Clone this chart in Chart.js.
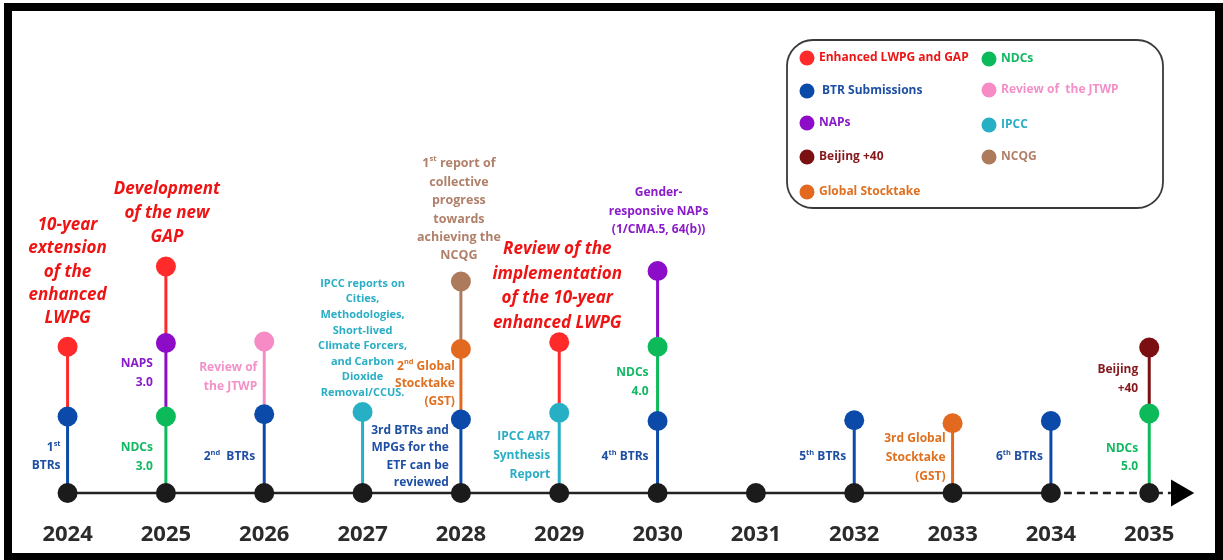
<!DOCTYPE html>
<html>
<head>
<meta charset="utf-8">
<title>Timeline 2024-2035</title>
<script src="https://cdn.jsdelivr.net/npm/chart.js@4.4.1/dist/chart.umd.min.js"></script>
<style>
  html, body { margin: 0; padding: 0; background: #fff; overflow: hidden; }
  #wrap { width: 1223px; height: 560px; position: relative; }
</style>
</head>
<body>
<div id="wrap"><canvas id="timeline"></canvas></div>
<script>
// Anos da linha do tempo
const years = [2024, 2025, 2026, 2027, 2028, 2029, 2030, 2031, 2032, 2033, 2034, 2035];

// Categorias (legenda)
const categories = ['Enhanced LWPG and GAP', 'BTR Submissions', 'NAPs', 'Beijing +40', 'Global Stocktake',
                    'NDCs', 'Review of  the JTWP', 'IPCC', 'NCQG'];
const dotColors  = ['#ff2b2b', '#0b4aa8', '#8c0cc8', '#7b1012', '#e2691f',
                    '#0cba5a', '#f68bc6', '#27afc6', '#ad7b5b'];
const textColors = ['#ee1414', '#1f4fa3', '#8a1bc9', '#85181c', '#e0701f',
                    '#12b862', '#f390c8', '#2aaec4', '#b0806a'];

// Eventos por categoria: [ano, nível]
const lwpgGap = [[2024, 1.95], [2025, 3.02], [2029, 2.01]];
const btr     = [[2024, 1.02], [2026, 1.05], [2028, 0.98], [2030, 0.96], [2032, 0.97], [2034, 0.96]];
const naps    = [[2025, 2.00], [2030, 2.96]];
const beijing = [[2035, 1.94]];
const gst     = [[2028, 1.92], [2033, 0.93]];
const ndcs    = [[2025, 1.02], [2030, 1.95], [2035, 1.06]];
const jtwp    = [[2026, 2.02]];
const ipcc    = [[2027, 1.08], [2029, 1.07]];
const ncqg    = [[2028, 2.82]];
const eventSeries = [lwpgGap, btr, naps, beijing, gst, ndcs, jtwp, ipcc, ncqg];

// Fim da seta do eixo
const axisEnd = 2035.3;

// Textos das anotações ({..} = sobrescrito)
const notes = [
  { year: 2024, cat: 0, at: 3.57, lines: ['10-year', 'extension', 'of the', 'enhanced', 'LWPG'], head: true, align: 'center', dx: 0, lh: 23.3 },
  { year: 2024, cat: 1, at: 0.60, lines: ['1{st}', 'BTRs'], align: 'right', dx: -7, lh: 18 },
  { year: 2025, cat: 0, at: 4.05, lines: ['Development', 'of the new', 'GAP'], head: true, align: 'center', dx: 1, lh: 24 },
  { year: 2025, cat: 2, at: 1.73, lines: ['NAPS', '3.0'], align: 'right', dx: -13, lh: 19 },
  { year: 2025, cat: 5, at: 0.60, lines: ['NDCs', '3.0'], align: 'right', dx: -13, lh: 19 },
  { year: 2026, cat: 6, at: 1.67, lines: ['Review of', 'the JTWP'], align: 'right', dx: -7, lh: 19 },
  { year: 2026, cat: 1, at: 0.48, lines: ['2{nd}  BTRs'], align: 'right', dx: -9, lh: 18 },
  { year: 2027, cat: 7, at: 2.79, lines: ['IPCC reports on', 'Cities,', 'Methodologies,', 'Short-lived', 'Climate Forcers,', 'and Carbon', 'Dioxide', 'Removal/CCUS.'], align: 'center', dx: 0, lh: 15.6, size: 11 },
  { year: 2028, cat: 8, at: 4.39, lines: ['1{st} report of', 'collective', 'progress', 'towards', 'achieving the', 'NCQG'], align: 'center', dx: -2, lh: 18.4, size: 12.5 },
  { year: 2028, cat: 4, at: 1.69, lines: ['2{nd} Global', 'Stocktake', '(GST)'], align: 'right', dx: -6, lh: 17.5 },
  { year: 2028, cat: 1, at: 0.83, lines: ['3rd BTRs and', 'MPGs for the', 'ETF can be', 'reviewed'], align: 'right', dx: -12, lh: 17.3 },
  { year: 2029, cat: 0, at: 3.25, lines: ['Review of the', 'implementation', 'of the 10-year', 'enhanced LWPG'], head: true, align: 'center', dx: -2, lh: 24.5 },
  { year: 2029, cat: 7, at: 0.75, lines: ['IPCC AR7', 'Synthesis', 'Report'], align: 'right', dx: -9, lh: 19 },
  { year: 2030, cat: 2, at: 4.00, lines: ['Gender-', 'responsive NAPs', '(1/CMA.5, 64(b))'], align: 'center', dx: 1, lh: 18.5 },
  { year: 2030, cat: 5, at: 1.60, lines: ['NDCs', '4.0'], align: 'right', dx: -9, lh: 19 },
  { year: 2030, cat: 1, at: 0.48, lines: ['4{th} BTRs'], align: 'right', dx: -9, lh: 18 },
  { year: 2032, cat: 1, at: 0.48, lines: ['5{th} BTRs'], align: 'right', dx: -8, lh: 18 },
  { year: 2033, cat: 4, at: 0.72, lines: ['3rd Global', 'Stocktake', '(GST)'], align: 'right', dx: -7, lh: 19 },
  { year: 2034, cat: 1, at: 0.48, lines: ['6{th} BTRs'], align: 'right', dx: -8, lh: 18 },
  { year: 2035, cat: 3, at: 1.64, lines: ['Beijing', '+40'], align: 'right', dx: -11, lh: 19 },
  { year: 2035, cat: 5, at: 0.59, lines: ['NDCs', '5.0'], align: 'right', dx: -11, lh: 18 }
];

const FONT = '"Open Sans", "DejaVu Sans", sans-serif';

/* ── Datasets ── */
function montarDatasets() {
  const ds = [];

  // Pontos dos eventos
  eventSeries.forEach((serie, i) => {
    ds.push({
      type: 'scatter',
      label: categories[i],
      data: serie.map(([x, y]) => ({ x, y })),
      backgroundColor: dotColors[i],
      borderWidth: 0,
      pointRadius: 10,
      pointHoverRadius: 10,
      order: 1,
      clip: false
    });
  });

  // Pontos pretos sobre o eixo
  ds.push({
    type: 'scatter',
    label: 'anos',
    data: years.map(x => ({ x, y: 0 })),
    backgroundColor: '#1b1b1b',
    borderWidth: 0,
    pointRadius: 10,
    pointHoverRadius: 10,
    order: 2,
    clip: false
  });

  // Seta no fim do eixo
  ds.push({
    type: 'scatter',
    label: 'seta',
    data: [{ x: axisEnd, y: 0 }],
    backgroundColor: '#000',
    borderWidth: 0,
    pointStyle: 'triangle',
    rotation: 90,
    pointRadius: 15.5,
    pointHoverRadius: 15.5,
    order: 3,
    clip: false
  });

  // Hastes: cada segmento tem a cor do ponto de cima
  years.forEach(ano => {
    const evs = [];
    eventSeries.forEach((serie, i) => serie.forEach(([x, y]) => { if (x === ano) evs.push({ y, i }); }));
    evs.sort((a, b) => a.y - b.y);
    let prev = 0;
    evs.forEach(ev => {
      ds.push({
        type: 'line',
        label: 'haste',
        data: [{ x: ano, y: prev }, { x: ano, y: ev.y }],
        borderColor: dotColors[ev.i],
        borderWidth: 3,
        pointRadius: 0,
        order: 5,
        clip: false
      });
      prev = ev.y;
    });
  });

  // Eixo: sólido até 2034, tracejado depois
  ds.push({
    type: 'line', label: 'eixo',
    data: [{ x: years[0], y: 0 }, { x: 2034, y: 0 }],
    borderColor: '#222', borderWidth: 2.5, pointRadius: 0, order: 6, clip: false
  });
  ds.push({
    type: 'line', label: 'eixo tracejado',
    data: [{ x: 2034, y: 0 }, { x: axisEnd - 0.08, y: 0 }],
    borderColor: '#222', borderWidth: 2.5, borderDash: [8, 5], pointRadius: 0, order: 6, clip: false
  });

  return ds;
}

/* ── Texto com sobrescrito ── */
function drawRich(ctx, text, x, y, align, size, italic) {
  const segs = text.split(/(\{[^}]*\})/).filter(s => s.length);
  const fMain = `${italic ? 'italic ' : ''}700 ${size}px ${FONT}`;
  const fSup = `700 ${size * 0.62}px ${FONT}`;
  const parts = segs.map(s => {
    const sup = s[0] === '{';
    const t = sup ? s.slice(1, -1) : s;
    ctx.font = sup ? fSup : fMain;
    return { t, sup, w: ctx.measureText(t).width };
  });
  const total = parts.reduce((a, p) => a + p.w, 0);
  let cx = align === 'center' ? x - total / 2 : align === 'right' ? x - total : x;
  ctx.textAlign = 'left';
  ctx.textBaseline = 'middle';
  parts.forEach(p => {
    ctx.font = p.sup ? fSup : fMain;
    ctx.fillText(p.t, cx, p.sup ? y - size * 0.36 : y);
    cx += p.w;
  });
}

const molduraPlugin = {
  id: 'moldura',
  beforeDraw(chart) {
    const ctx = chart.ctx;
    ctx.save();
    ctx.fillStyle = '#fff';
    ctx.fillRect(0, 0, chart.width, chart.height);
    ctx.fillStyle = '#000';
    ctx.fillRect(4, 3, chart.width - 4, chart.height - 3);
    ctx.fillStyle = '#fff';
    ctx.fillRect(12, 11, 1203, 542);
    ctx.restore();
  }
};

const anotacoesPlugin = {
  id: 'anotacoes',
  afterDatasetsDraw(chart) {
    const ctx = chart.ctx;
    const xs = chart.scales.x, ys = chart.scales.y;
    ctx.save();
    notes.forEach(n => {
      const x = xs.getPixelForValue(n.year) + n.dx;
      let y = ys.getPixelForValue(n.at);
      const size = n.size || (n.head ? 17 : 12);
      ctx.fillStyle = textColors[n.cat];
      n.lines.forEach(line => {
        drawRich(ctx, line, x, y, n.align, size, !!n.head);
        y += n.lh;
      });
    });
    ctx.restore();
  }
};

const legendaPlugin = {
  id: 'legenda',
  afterDraw(chart) {
    const ctx = chart.ctx;
    ctx.save();
    // caixa arredondada
    const bx = 787, by = 40, bw = 376, bh = 168, r = 26;
    ctx.beginPath();
    ctx.roundRect(bx, by, bw, bh, r);
    ctx.strokeStyle = '#3a3a3a';
    ctx.lineWidth = 1.8;
    ctx.stroke();

    const colX = [807, 989];
    const rowsY = [[58, 91, 123, 157, 192], [59, 90, 125, 157]];
    categories.forEach((nome, i) => {
      const col = i < 5 ? 0 : 1;
      const row = col === 0 ? i : i - 5;
      const cx = colX[col], cy = rowsY[col][row];
      ctx.beginPath();
      ctx.arc(cx, cy, 7.5, 0, Math.PI * 2);
      ctx.fillStyle = dotColors[i];
      ctx.fill();
      ctx.font = `700 12px ${FONT}`;
      ctx.textAlign = 'left';
      ctx.textBaseline = 'middle';
      ctx.fillStyle = textColors[i];
      ctx.fillText(nome, cx + (i === 1 ? 15 : 12), cy);
    });
    ctx.restore();
  }
};

document.addEventListener('DOMContentLoaded', () => {
  const ctx = document.getElementById('timeline').getContext('2d');
  new Chart(ctx, {
    type: 'scatter',
    data: { datasets: montarDatasets() },
    options: {
      responsive: true,
      maintainAspectRatio: false,
      animation: false,
      events: [],
      layout: { padding: { left: 18.4, right: 24.6, top: 43, bottom: 0 } },
      plugins: {
        legend: { display: false },
        tooltip: { enabled: false }
      },
      scales: {
        x: {
          type: 'linear',
          min: 2023.5,
          max: 2035.5,
          border: { display: false },
          grid: { display: false, drawTicks: false },
          afterBuildTicks: s => { s.ticks = years.map(v => ({ value: v })); },
          afterFit: s => { s.paddingLeft = 0; s.paddingRight = 0; s.height = 44.5; },
          ticks: {
            autoSkip: false,
            maxRotation: 0,
            padding: 6,
            color: '#2b2b2b',
            font: { family: FONT, size: 22, weight: 'bold' },
            callback: v => String(v)
          }
        },
        y: {
          type: 'linear',
          min: -0.3,
          max: 6,
          display: false
        }
      }
    },
    plugins: [molduraPlugin, anotacoesPlugin, legendaPlugin]
  });
});
</script>
</body>
</html>
